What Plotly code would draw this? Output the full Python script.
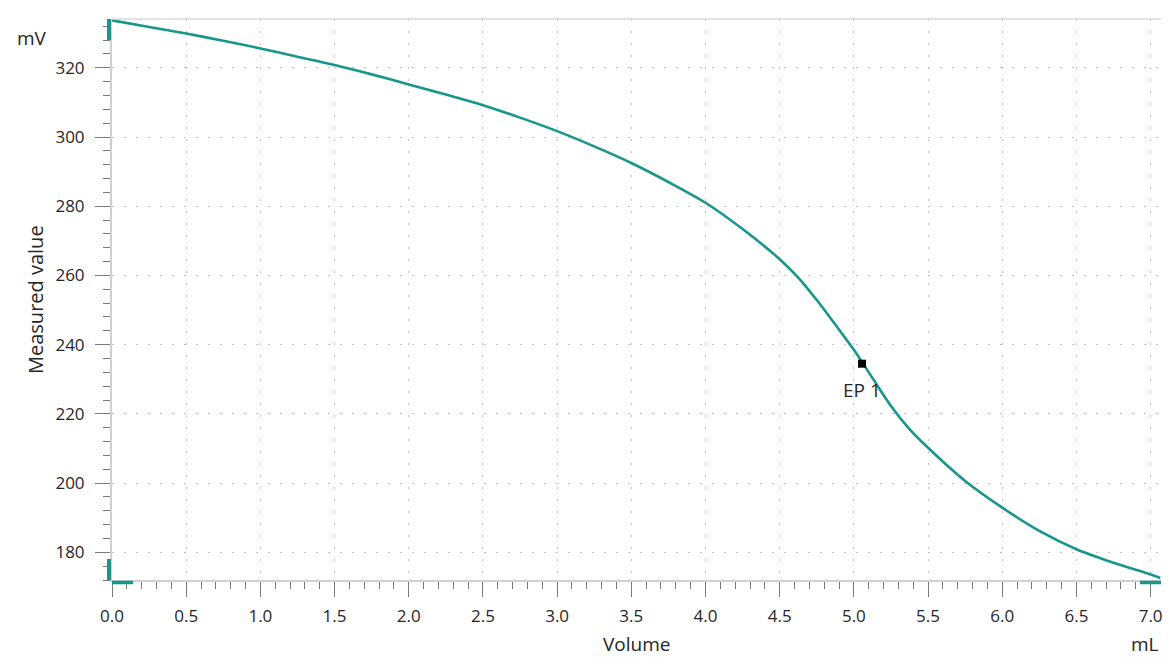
import plotly.graph_objects as go

volume_ml = [0, 0.25, 0.5, 0.75, 1.0, 1.25, 1.5, 1.75, 2.0, 2.25, 2.5, 2.75, 3.0, 3.25,
             3.5, 3.75, 4.0, 4.25, 4.5, 4.625, 4.75, 4.875, 5.0, 5.125, 5.25, 5.375, 5.5,
             5.75, 6.0, 6.25, 6.5, 6.75, 7.0, 7.065]
measured_mv = [333.7, 331.8, 329.9, 327.8, 325.6, 323.2, 320.8, 318.1, 315.2, 312.3,
               309.2, 305.6, 301.7, 297.3, 292.5, 287.0, 281.0, 273.4, 264.7, 259.4,
               252.9, 245.8, 238.5, 230.4, 222.3, 215.6, 210.2, 200.6, 192.9, 186.2,
               180.9, 177.0, 173.6, 172.6]
ep_volume = [5.055]
ep_value = [234.5]
ep_label = ["EP 1"]

x_ticks = [0.0, 0.5, 1.0, 1.5, 2.0, 2.5, 3.0, 3.5, 4.0, 4.5, 5.0, 5.5, 6.0, 6.5, 7.0]
y_ticks = [180, 200, 220, 240, 260, 280, 300, 320]

TEAL = "#17978b"
FONT = "Open Sans"
TXT = "#262626"

# page body has an 8px margin, so the figure is sized to fit inside the window
OFF = 8
W, H = 1162, 649
L, R, T, B = 104, 9, 11, 77
PW, PH = W - L - R, H - T - B


def px(xp):
    return (xp - OFF - L) / PW


def py(yp):
    return (H - B - (yp - OFF)) / PH


fig = go.Figure()
fig.add_trace(go.Scatter(x=volume_ml, y=measured_mv, mode="lines",
                         line=dict(color=TEAL, width=2.6, shape="spline", smoothing=0.9),
                         hoverinfo="skip", showlegend=False))
fig.add_trace(go.Scatter(x=ep_volume, y=ep_value, mode="markers",
                         marker=dict(color="black", symbol="square", size=8),
                         showlegend=False))
fig.add_annotation(x=ep_volume[0], y=ep_value[0], text=ep_label[0], showarrow=False,
                   yshift=-26, font=dict(family=FONT, size=19, color=TXT))

tick_common = dict(ticks="outside", ticklen=15, tickwidth=1.3, tickcolor="#7a7a7a",
                   showline=True, linecolor="#d0d0d0", linewidth=2,
                   showgrid=True, gridcolor="#c4c4c4", griddash="2px,10px", gridwidth=1,
                   zeroline=False, automargin=False,
                   tickfont=dict(family=FONT, size=17, color=TXT))

fig.update_xaxes(range=[0, 7.07], tickvals=x_ticks, ticktext=[f"{v:.1f}" for v in x_ticks],
                 minor=dict(dtick=0.1, tick0=0, ticks="outside", ticklen=7,
                            tickcolor="#7a7a7a", tickwidth=1.3, showgrid=False),
                 ticklabelstandoff=5, **tick_common)
fig.update_yaxes(range=[172, 334.1], tickvals=y_ticks,
                 minor=dict(dtick=4, tick0=0, ticks="outside", ticklen=7,
                            tickcolor="#7a7a7a", tickwidth=1.3, showgrid=False),
                 ticklabelstandoff=7, **tick_common)

title_font = dict(family=FONT, size=19, color=TXT)
# axis titles and unit labels
fig.add_annotation(xref="paper", yref="paper", x=px(35), y=py(300), text="Measured value",
                   textangle=-90, showarrow=False, xanchor="center", yanchor="middle",
                   font=dict(family=FONT, size=20, color=TXT))
fig.add_annotation(xref="paper", yref="paper", x=px(636), y=py(644), text="Volume",
                   showarrow=False, xanchor="center", yanchor="middle", font=title_font)
fig.add_annotation(xref="paper", yref="paper", x=px(32), y=py(38), text="mV",
                   showarrow=False, xanchor="center", yanchor="middle", font=title_font)
fig.add_annotation(xref="paper", yref="paper", x=px(1145), y=py(644), text="mL",
                   showarrow=False, xanchor="center", yanchor="middle", font=title_font)

# top border line
fig.add_shape(type="line", xref="paper", yref="paper", x0=0, x1=1, y0=1, y1=1,
              line=dict(color="#d8d8d8", width=1.5))
# range markers (teal)
fig.add_shape(type="line", xref="paper", yref="paper", x0=px(109), x1=px(109), y0=1, y1=py(40),
              line=dict(color=TEAL, width=4))
fig.add_shape(type="line", xref="paper", yref="paper", x0=px(109), x1=px(109), y0=0, y1=py(559),
              line=dict(color=TEAL, width=4))
fig.add_shape(type="line", xref="paper", yref="paper", x0=px(112), x1=px(133), y0=py(582.5), y1=py(582.5),
              line=dict(color=TEAL, width=3.5))
fig.add_shape(type="line", xref="paper", yref="paper", x0=px(1140), x1=px(1161), y0=py(582.5), y1=py(582.5),
              line=dict(color=TEAL, width=3.5))

fig.update_layout(width=W, height=H, margin=dict(l=L, r=R, t=T, b=B, autoexpand=False),
                  paper_bgcolor="white", plot_bgcolor="white",
                  font=dict(family=FONT, color=TXT))
fig.write_html("out.html")
